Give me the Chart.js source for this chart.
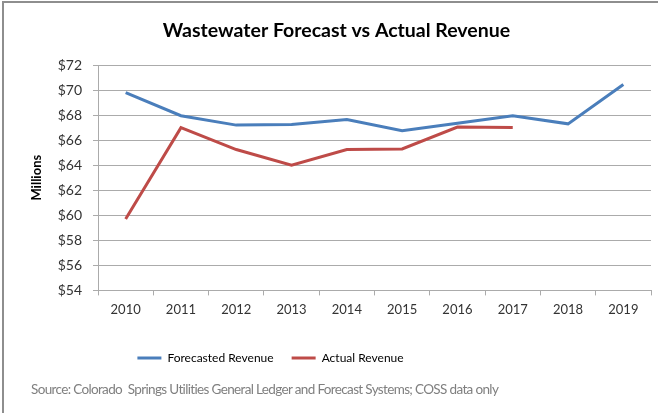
<!DOCTYPE html>
<html>
<head>
<meta charset="utf-8">
<script src="https://cdn.jsdelivr.net/npm/chart.js@4.4.1/dist/chart.umd.min.js"></script>
<style>
  html, body { margin: 0; padding: 0; background: #fff; }
  #wrap { position: relative; width: 658px; height: 413px; overflow: hidden; }
  #frame { position: absolute; left: 2px; top: 1px; width: 800px; height: 600px;
           border-top: 2px solid #8e8e8e; border-left: 2px solid #8e8e8e; }
  #revenueChart { position: absolute; left: 0; top: 0; }
  #source { position: absolute; left: 31px; top: 380px; font: 13.5px/18px Lato, sans-serif;
            letter-spacing: -0.65px; color: #7f7f7f; white-space: pre; }
</style>
</head>
<body>
<div id="wrap">
  <div id="frame"></div>
  <canvas id="revenueChart" width="658" height="413"></canvas>
  <div id="source">Source: Colorado  Springs Utilities General Ledger and Forecast Systems; COSS data only</div>
</div>
<script>
// ─── data (millions) ────────────────────────────────────
const years = ["2010", "2011", "2012", "2013", "2014", "2015", "2016", "2017", "2018", "2019"];
const forecastedRevenue = [69.8, 67.95, 67.2, 67.25, 67.65, 66.75, 67.35, 67.95, 67.3, 70.45];
const actualRevenue     = [59.7, 67.0, 65.25, 64.0, 65.25, 65.3, 67.05, 67.0, null, null];
const yTicks = { min: 54, max: 72, step: 2 };

const gridGrey = "#ababab";
const labelFont = "Lato, sans-serif";

// title and legend are not centred on the canvas in the original, nudge them sideways
const nudgeBoxes = {
  id: "nudgeBoxes",
  afterLayout(chart) {
    if (chart.titleBlock) { chart.titleBlock.left += 11; chart.titleBlock.right += 11; }
    if (chart.legend) { chart.legend.left -= 55; chart.legend.right -= 55; }
  }
};

// ─── chart ─────────────────────────────
const ctx = document.getElementById("revenueChart").getContext("2d");
new Chart(ctx, {
  type: "line",
  data: {
    labels: years,
    datasets: [
      {
        label: "Forecasted Revenue",
        data: forecastedRevenue,
        borderColor: "#4a7ebb",
        backgroundColor: "#4a7ebb",
        borderWidth: 3,
        pointRadius: 0,
        tension: 0
      },
      {
        label: "Actual Revenue",
        data: actualRevenue,
        borderColor: "#be4b48",
        backgroundColor: "#be4b48",
        borderWidth: 3,
        pointRadius: 0,
        tension: 0
      }
    ]
  },
  options: {
    responsive: false,
    animation: false,
    layout: { padding: { left: 0, right: 7, top: 0, bottom: 39 } },
    plugins: {
      title: {
        display: true,
        text: "Wastewater Forecast vs Actual Revenue",
        color: "#000",
        font: { family: labelFont, size: 19.5, weight: "bold" },
        padding: { top: 19, bottom: 22.6 }
      },
      legend: {
        position: "bottom",
        labels: {
          usePointStyle: true,
          pointStyle: "line",
          pointStyleWidth: 24,
          color: "#000",
          font: { family: labelFont, size: 12 },
          padding: 18
        }
      },
      tooltip: { enabled: false }
    },
    scales: {
      x: {
        offset: true,
        grid: { offset: true, drawOnChartArea: false, color: gridGrey, tickLength: 5 },
        border: { color: gridGrey },
        ticks: { color: "#333", font: { family: labelFont, size: 13 }, padding: 7, maxRotation: 0 },
        afterFit: (scale) => { scale.height += 9; }
      },
      y: {
        min: yTicks.min,
        max: yTicks.max,
        grid: { color: gridGrey, tickLength: 5 },
        border: { color: gridGrey },
        ticks: {
          stepSize: yTicks.step,
          color: "#333",
          font: { family: labelFont, size: 14 },
          padding: 11,
          callback: (v) => "$" + v
        },
        title: {
          display: true,
          text: "Millions",
          color: "#000",
          font: { family: labelFont, size: 13, weight: "bold" },
          padding: { top: 29, bottom: 0 }
        },
        afterFit: (scale) => { scale.width = 98; }
      }
    }
  },
  plugins: [nudgeBoxes]
});
</script>
</body>
</html>
